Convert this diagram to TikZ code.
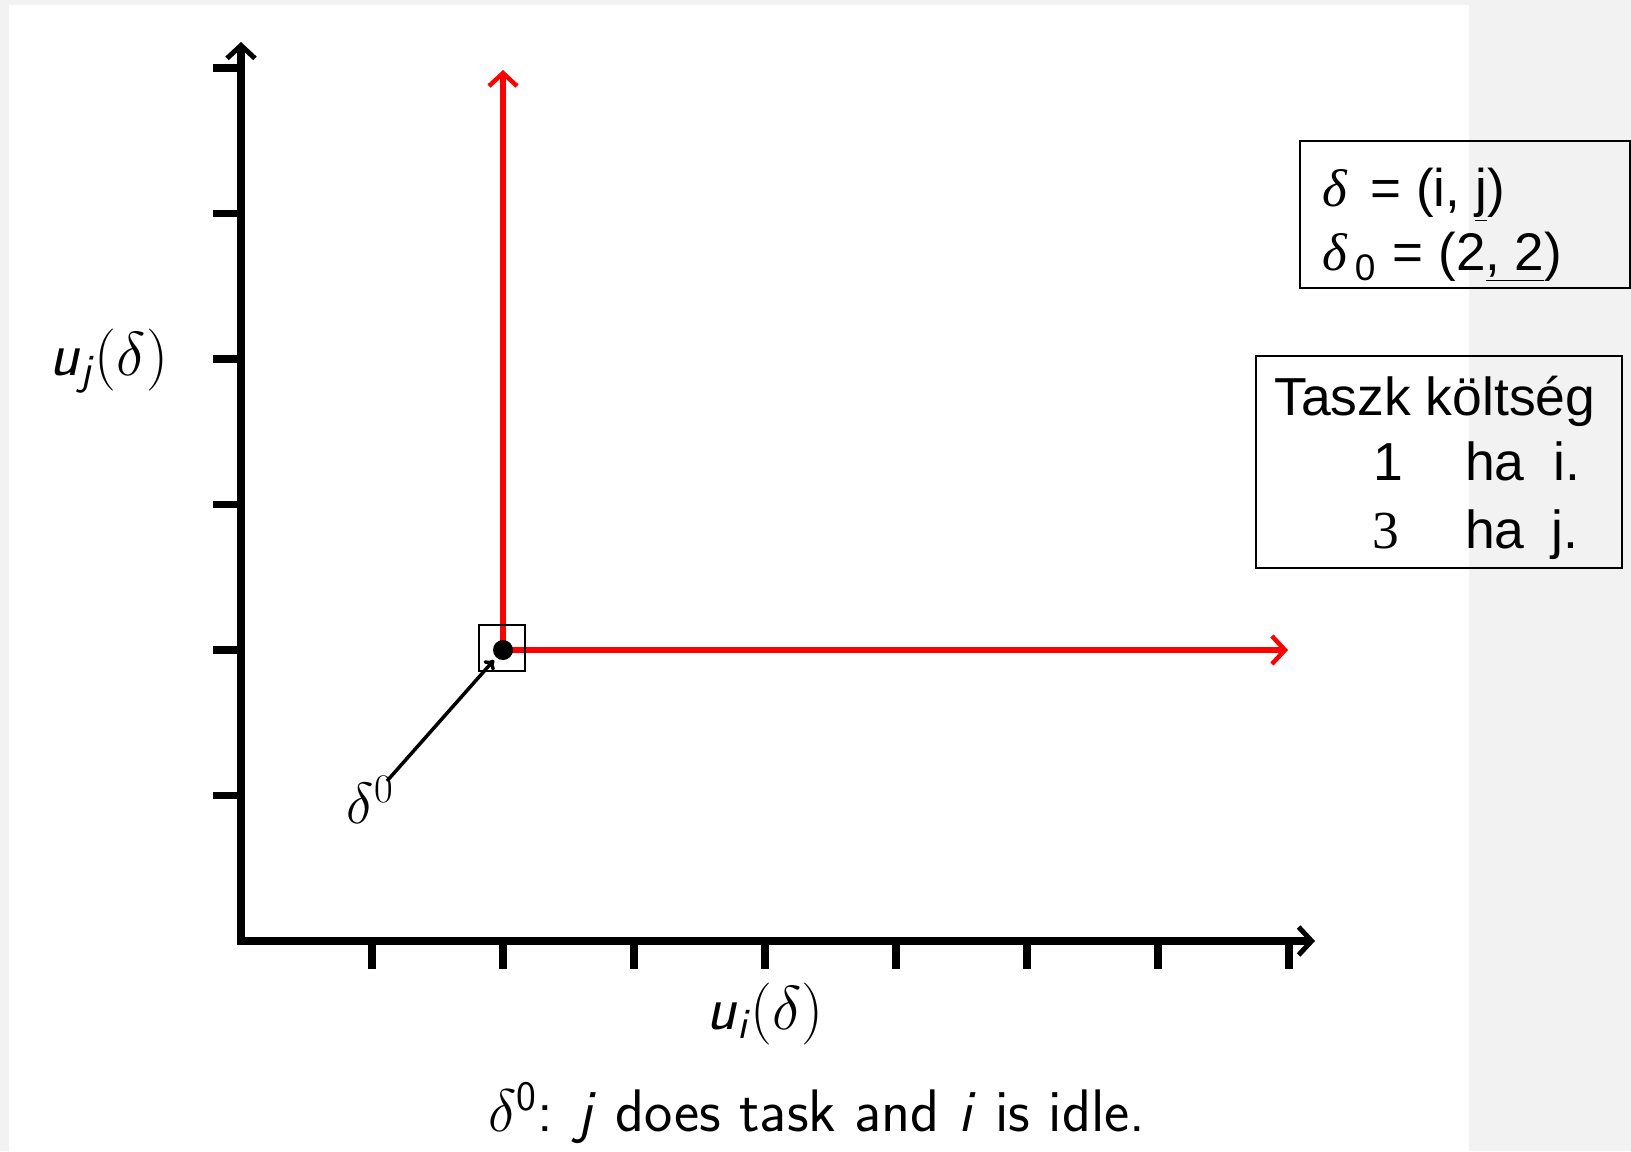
\RequirePackage{fix-cm}
\documentclass[tikz,border=0pt]{standalone}
\usepackage{amsmath}
\usepackage{fontspec}
\newfontfamily\arialf{Liberation Sans}
\newfontfamily\timesf{Liberation Serif}
\usetikzlibrary{arrows.meta}
\definecolor{bggray}{HTML}{F2F2F2}
\tikzset{axbarb/.tip={Straight Barb[length=13bp,width=28bp,line width=5bp]}}
\begin{document}
\begin{tikzpicture}[x=1bp,y=-1bp,
  axis/.style={line width=7.5bp},
  tickmark/.style={line width=7.5bp},
  redline/.style={red, line width=6bp, -{Straight Barb[length=13bp,width=28bp,line width=4.5bp]}},
  framebox/.style={draw, line width=2bp, inner sep=0pt},
  mathlbl/.style={inner sep=0pt, font=\fontsize{62bp}{72bp}\selectfont},
  boxtxt/.style={inner sep=0pt, anchor=base west, font=\arialf\fontsize{53bp}{60bp}\selectfont},
  boxtxtb/.style={inner sep=0pt, anchor=base west, font=\arialf\fontsize{53.5bp}{62bp}\selectfont}
]
% background
\fill[bggray] (0,0) rectangle (1631,1151);
\fill[white] (9,5) rectangle (1469,1151);
\useasboundingbox (0,0) rectangle (1631,1151);

% axes
\coordinate (O) at (241,941);
\coordinate (ytip) at (241,42);
\coordinate (xtip) at (1315,941);
\draw[axis, axbarb-axbarb] (ytip) -- (O) -- (xtip);
\foreach \k in {1,...,6} {
  \draw[tickmark] (213,{941-145.5*\k}) -- (241,{941-145.5*\k});
}
\foreach \k in {1,...,8} {
  \draw[tickmark] ({241+131*\k},941) -- ({241+131*\k},969);
}

% red lines
\coordinate (P) at (503,650);
\coordinate (rtop) at (503,70);
\coordinate (rright) at (1288,650);
\draw[redline] (P) -- (rtop);
\draw[redline] (P) -- (rright);

% square and dot
\node[draw, line width=1.5bp, minimum size=46bp, inner sep=0pt] (sq) at (502,648) {};
\node[fill, circle, minimum size=20bp, inner sep=0pt] (dot) at (P) {};

% delta^0 arrow
\node[inner sep=0pt, font=\fontsize{58bp}{68bp}\selectfont] (d0) at (370,800) {$\delta^0$};
\coordinate (tail) at (387,781);
\coordinate (tip) at (494,660);
\draw[line width=3.5bp, -{To[length=9bp,width=14bp]}] (tail) -- (tip);

% axis labels
\node[mathlbl] (uj) at (109,361) {$\textsf{\textit{u}}_{\textsf{\textit{j}}}(\delta)$};
\node[mathlbl] (ui) at (765,1014) {$\textsf{\textit{u}}_{\textsf{\textit{i}}}(\delta)$};

% caption
\node[inner sep=0pt, font=\sffamily\fontsize{60bp}{70bp}\selectfont] (cap) at (817,1113)
  {$\delta^{\textsf{0}}$: \textit{j} does task and \textit{i} is idle.};

% box 1
\node[framebox, minimum width=330bp, minimum height=147bp, anchor=north west] (box1) at (1299,140) {};
\node[boxtxt] (b1l1) at (1322,206) {{\timesf\itshape δ}\hspace{0.45em}= (i, \underline{j})};
\node[boxtxt] (b1l2) at (1322,270) {{\timesf\itshape δ}\hspace{0.15em}\raisebox{-0.2em}{\fontsize{37bp}{40bp}\selectfont 0}\hspace{0.05em} = (2\underline{, 2})};

% box 2
\node[framebox, minimum width=366bp, minimum height=212bp, anchor=north west] (box2) at (1255,355) {};
\node[boxtxtb] (t0) at (1274,415) {Taszk költség};
\node[boxtxtb] (t1a) at (1373,480) {1};
\node[boxtxtb] (t1b) at (1465,480) {ha};
\node[boxtxtb] (t1c) at (1553,480) {i.};
\node[boxtxtb, font=\timesf\fontsize{53.5bp}{62bp}\selectfont] (t2a) at (1372,548) {3};
\node[boxtxtb] (t2b) at (1465,548) {ha};
\node[boxtxtb] (t2c) at (1551,548) {j.};
\end{tikzpicture}
\end{document}
